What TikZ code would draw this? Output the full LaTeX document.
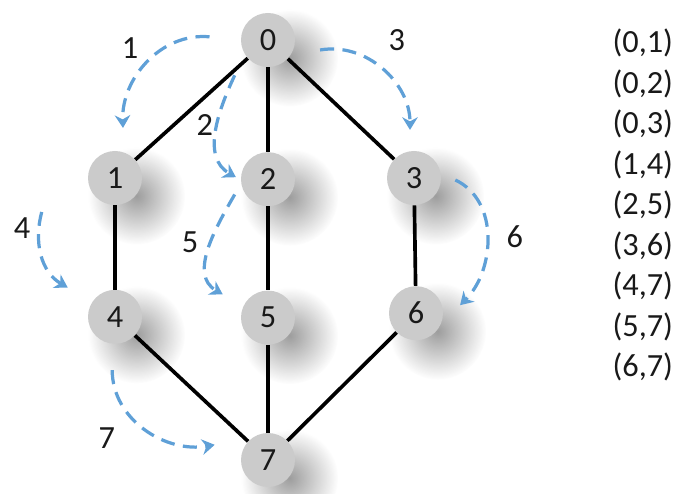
\documentclass[tikz,border=0pt]{standalone}
\usepackage{fontspec}
\setmainfont{Carlito}
\usetikzlibrary{arrows.meta,shadows,fadings}
\definecolor{trail}{RGB}{95,160,215}
\definecolor{disc}{RGB}{203,203,203}
\definecolor{ink}{RGB}{25,25,25}
\tikzfading[name=softdisc, inner color=transparent!0, outer color=transparent!100]

\begin{document}
\begin{tikzpicture}[
    vtx/.style={circle, fill=disc, minimum size=1.35cm, inner sep=0pt, font=\fontsize{23}{27}\selectfont, text=ink,
        circular drop shadow={shadow xshift=0.3cm, shadow yshift=-0.25cm, shadow scale=1.8, opacity=0.55, fill=black!70, path fading=softdisc}},
    edg/.style={line width=2.6pt, black},
    trv/.style={trail, line width=2.3pt, dash pattern=on 10pt off 6pt, -{Stealth[length=9pt,width=11pt]}},
    num/.style={font=\fontsize{23}{27}\selectfont, text=ink}
]
\useasboundingbox (0,0) rectangle (17.075,12.35);

\node[vtx] (n0) at (6.7,11.35) {0};
\node[vtx] (n1) at (2.875,7.9) {1};
\node[vtx] (n2) at (6.7,7.87) {2};
\node[vtx] (n3) at (10.35,7.9) {3};
\node[vtx] (n4) at (2.875,4.43) {4};
\node[vtx] (n5) at (6.7,4.41) {5};
\node[vtx] (n6) at (10.4,4.52) {6};
\node[vtx] (n7) at (6.7,0.85) {7};

\draw[edg] (n0) -- (n1);
\draw[edg] (n0) -- (n2);
\draw[edg] (n0) -- (n3);
\draw[edg] (n1) -- (n4);
\draw[edg] (n2) -- (n5);
\draw[edg] (n3) -- (n6);
\draw[edg] (n4) -- (n7);
\draw[edg] (n5) -- (n7);
\draw[edg] (n6) -- (n7);

% visiting order
\draw[trv] ([shift={(-0.78,0.08)}]n0.west) to[out=175, in=92] ([shift={(0.2,0.57)}]n1.north);
\draw[trv] ([shift={(-0.35,-0.4)}]n0.south west) to[out=245, in=150] ([shift={(-0.12,0.05)}]n2.west);
\draw[trv] ([shift={(0.62,-0.25)}]n0.east) to[out=10, in=90] ([shift={(-0.1,0.52)}]n3.north);
\draw[trv] ([shift={(-1.15,-0.85)}]n1.west) to[out=255, in=150] ([shift={(-0.7,0.25)}]n4.north west);
\draw[trv] ([shift={(-0.35,0.1)}]n2.south west) to[out=240, in=150] ([shift={(-0.65,0.1)}]n5.north west);
\draw[trv] ([shift={(0.35,-0.05)}]n3.east) to[out=-25, in=45] ([shift={(0.42,0.2)}]n6.east);
\draw[trv] ([shift={(-0.07,-0.65)}]n4.south) to[out=-90, in=190] ([shift={(-0.65,0.38)}]n7.west);

\node[num] (s1) at (3.25,11.15) {1};
\node[num] (s2) at (5.12,9.22) {2};
\node[num] (s3) at (9.92,11.35) {3};
\node[num] (s4) at (0.55,6.65) {4};
\node[num] (s5) at (4.75,6.3) {5};
\node[num] (s6) at (12.87,6.42) {6};
\node[num] (s7) at (2.67,1.4) {7};

\node[num, align=left, anchor=north, font=\fontsize{23}{28.8}\selectfont] (pairs) at (16.07,11.75)
    {(0,1)\\(0,2)\\(0,3)\\(1,4)\\(2,5)\\(3,6)\\(4,7)\\(5,7)\\(6,7)};
\end{tikzpicture}
\end{document}
